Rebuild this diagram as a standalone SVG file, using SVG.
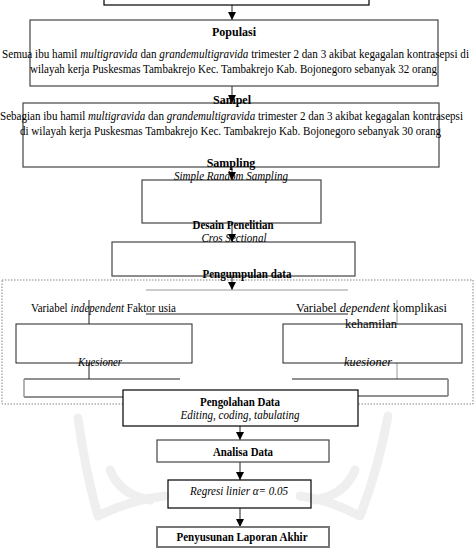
<svg xmlns="http://www.w3.org/2000/svg" width="475" height="557" viewBox="0 0 475 557">
<style>
text{font-family:"Liberation Serif","Times New Roman",serif;fill:#000}
.t{font-size:12px;font-weight:bold;text-anchor:middle}
.b{font-size:11.5px}
.c{text-anchor:middle}
.i{font-style:italic}
.box{fill:none;stroke:#444;stroke-width:1.2}
.dk{fill:none;stroke:#000;stroke-width:1.2}
.ln{fill:none;stroke:#222;stroke-width:1}
.gl{fill:none;stroke:#999;stroke-width:1.5}
.wm{fill:none;stroke:#efefef;stroke-width:9;stroke-linejoin:round;stroke-linecap:round}
</style>
<defs>
<marker id="ah" viewBox="0 0 8 8" refX="8" refY="4" markerWidth="8" markerHeight="8" markerUnits="userSpaceOnUse" orient="auto">
<path d="M0,0 L8,4 L0,8 Z" fill="#000"/>
</marker>
</defs>
<rect width="475" height="557" fill="#fff"/>
<g id="watermark">
<path class="wm" d="M78,418 Q85,470 98,516 Q130,500 165,496"/>
<path class="wm" d="M388,416 Q378,470 360,516 Q330,500 300,496"/>
<path class="wm" d="M110,470 Q120,495 150,500"/>
<path class="wm" d="M355,470 Q345,495 315,500"/>
</g>
<g id="connectors">
<line class="ln" x1="232" y1="5" x2="232" y2="20" marker-end="url(#ah)"/>
<line class="ln" x1="232" y1="86" x2="232" y2="103" marker-end="url(#ah)"/>
<line class="ln" x1="232" y1="167" x2="232" y2="180" marker-end="url(#ah)"/>
<line class="ln" x1="232" y1="223" x2="232" y2="242" marker-end="url(#ah)"/>
<line class="ln" x1="232" y1="276" x2="232" y2="290" marker-end="url(#ah)"/>
<line class="gl" x1="146" y1="290" x2="348" y2="290" style="stroke-width:1.2"/>
<line class="ln" x1="146" y1="314" x2="348" y2="314"/>
<line class="ln" x1="89" y1="300" x2="89" y2="324"/>
<line class="gl" x1="397" y1="300" x2="397" y2="324" style="stroke-width:1"/>
<line class="ln" x1="89" y1="363" x2="89" y2="379"/>
<line class="gl" x1="397" y1="363" x2="397" y2="379" style="stroke-width:1"/>
<path class="ln" d="M24,379 H180 M292,379 H448 V396 H358 M123,397 H24"/>
<path class="gl" d="M24,379 V397 M448,379 V396"/>
<line class="ln" x1="240" y1="426" x2="240" y2="440" marker-end="url(#ah)"/>
<line class="ln" x1="240" y1="462" x2="240" y2="480" marker-end="url(#ah)"/>
<line class="ln" x1="240" y1="508" x2="240" y2="527" marker-end="url(#ah)"/>
</g>
<g id="top">
<rect class="dk" x="104" y="-5" width="265" height="10"/>
</g>
<g id="populasi">
<rect class="box" x="30" y="20" width="408" height="66"/>
<text class="t" x="234" y="36">Populasi</text>
<text class="b" x="2" y="58" textLength="467" lengthAdjust="spacingAndGlyphs">Semua ibu hamil <tspan class="i">multigravida</tspan> dan <tspan class="i">grandemultigravida</tspan> trimester 2 dan 3 akibat kegagalan  kontrasepsi di</text>
<text class="b" x="30" y="73" textLength="407" lengthAdjust="spacingAndGlyphs">wilayah kerja Puskesmas Tambakrejo Kec. Tambakrejo Kab. Bojonegoro sebanyak 32 orang</text>
</g>
<g id="sampel">
<rect class="box" x="23" y="103" width="416" height="64"/>
<text class="t" x="232" y="104">Sampel</text>
<text class="b" x="0" y="120" textLength="463" lengthAdjust="spacingAndGlyphs">Sebagian ibu hamil <tspan class="i">multigravida</tspan> dan <tspan class="i">grandemultigravida</tspan> trimester 2 dan 3 akibat kegagalan  kontrasepsi</text>
<text class="b" x="20" y="135" textLength="421" lengthAdjust="spacingAndGlyphs">di wilayah kerja Puskesmas Tambakrejo Kec. Tambakrejo Kab. Bojonegoro sebanyak 30 orang</text>
</g>
<g id="sampling">
<rect class="box" x="142" y="180" width="179" height="43"/>
<text class="t" x="231" y="167">Sampling</text>
<text class="b i c" x="231" y="180" textLength="114" lengthAdjust="spacingAndGlyphs">Simple Random Sampling</text>
</g>
<g id="desain">
<rect class="box" x="112" y="242" width="243" height="34"/>
<text class="t" x="233" y="229" textLength="81" lengthAdjust="spacingAndGlyphs">Desain Penelitian</text>
<text class="b i c" x="234" y="242" fill="#333" textLength="65" lengthAdjust="spacingAndGlyphs">Cros Sectional</text>
</g>
<g id="pengumpulan">
<rect x="2" y="280" width="471" height="124" fill="none" stroke="#666" stroke-width="0.8" stroke-dasharray="1.5,1.5"/>
<text class="t" x="247" y="278" textLength="89" lengthAdjust="spacingAndGlyphs">Pengumpulan data</text>
</g>
<g id="independent">
<rect class="ln" x="16" y="324" width="176" height="39"/>
<text class="b" x="31" y="312" textLength="145" lengthAdjust="spacingAndGlyphs">Variabel <tspan class="i">independent</tspan> Faktor usia</text>
<text class="b i c" x="100" y="366" textLength="44" lengthAdjust="spacingAndGlyphs">Kuesioner</text>
</g>
<g id="dependent">
<rect class="ln" x="283" y="324" width="179" height="39"/>
<text x="296" y="312" font-size="12.5" textLength="151" lengthAdjust="spacingAndGlyphs">Variabel <tspan class="i">dependent</tspan> komplikasi</text>
<text x="371" y="328" font-size="12.5" text-anchor="middle">kehamilan</text>
<text class="b i c" x="368" y="366" textLength="48" lengthAdjust="spacingAndGlyphs">kuesioner</text>
</g>
<g id="pengolahan">
<rect class="dk" x="123" y="390" width="235" height="36" style="fill:#fff"/>
<text class="t" x="240" y="406" textLength="80" lengthAdjust="spacingAndGlyphs">Pengolahan Data</text>
<text class="b i c" x="240" y="419" textLength="119" lengthAdjust="spacingAndGlyphs">Editing, coding, tabulating</text>
</g>
<g id="analisa">
<rect class="box" x="157" y="440" width="172" height="22"/>
<text class="t" x="243" y="456" textLength="60" lengthAdjust="spacingAndGlyphs">Analisa Data</text>
</g>
<g id="regresi">
<rect class="dk" x="168" y="480" width="143" height="28"/>
<text class="b i c" x="239" y="495" textLength="98" lengthAdjust="spacingAndGlyphs">Regresi linier α= 0.05</text>
</g>
<g id="penyusunan">
<rect x="157" y="527" width="172" height="20" fill="none" stroke="#777" stroke-width="2"/>
<text class="t" x="242" y="541" textLength="131" lengthAdjust="spacingAndGlyphs">Penyusunan Laporan Akhir</text>
</g>
</svg>
